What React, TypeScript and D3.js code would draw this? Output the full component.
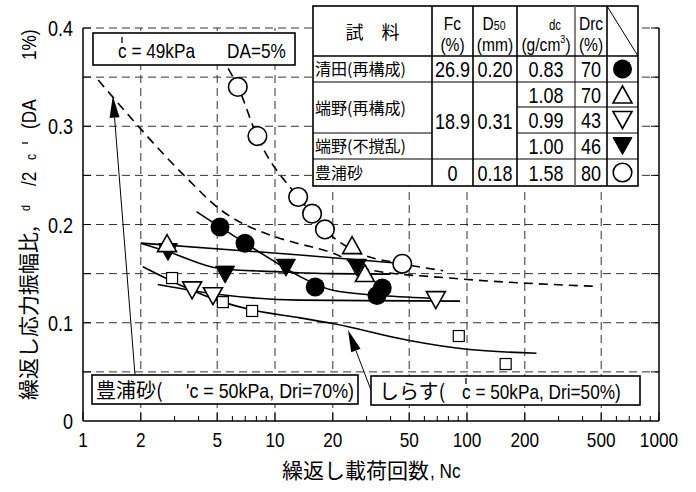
import * as d3 from "d3";
import React from "react";

const W = 696;
const H = 492;
const SANS = "'Liberation Sans', Arial, sans-serif";
const CJK = "'Noto Sans CJK JP', 'Noto Sans CJK SC', sans-serif";
const SQ = 0.82; // horizontal squeeze to imitate a narrow face

// axis ticks
const X_TICKS = [1, 2, 5, 10, 20, 50, 100, 200, 500, 1000];
const X_GRID = [2, 5, 10, 20, 50, 100, 200, 500];
const X_MINOR = [3, 4, 6, 7, 8, 9, 30, 40, 60, 70, 80, 90, 300, 400, 600, 700, 800, 900];
const Y_LABELS = [0, 0.1, 0.2, 0.3, 0.4];
const Y_GRID = [0.05, 0.1, 0.15, 0.2, 0.25, 0.3, 0.35, 0.4];

// 豊浦砂 (open circle)
const TOYOURA_N = [6.4, 8.1, 13.2, 15.6, 18.2, 46];
const TOYOURA_V = [0.34, 0.29, 0.228, 0.211, 0.195, 0.16];
// 清田(再構成) (filled circle)
const KIYOTA_N = [5.17, 6.98, 16.2, 36.2, 34];
const KIYOTA_V = [0.1975, 0.181, 0.1364, 0.1354, 0.1277];
// 端野(再構成) Drc=70 (open up triangle)
const TANNO70_N = [2.74, 25.2, 29.4];
const TANNO70_V = [0.181, 0.179, 0.1506];
// 端野(再構成) Drc=43 (open down triangle)
const TANNO43_N = [3.7, 4.75, 68.8];
const TANNO43_V = [0.133, 0.127, 0.123];
// 端野(不撹乱) (filled down triangle)
const TANNO_UND_N = [2.77, 5.5, 11.4, 26.7];
const TANNO_UND_V = [0.172, 0.149, 0.156, 0.156];
// しらす Dri=50% (small square)
const SHIRASU_N = [2.91, 5.35, 7.6, 90.6, 159];
const SHIRASU_V = [0.1455, 0.121, 0.112, 0.0865, 0.058];

// fitted curves (solid)
const FIT_KIYOTA_N = [3.9, 5.2, 7.0, 10.2, 13.5, 20, 34, 64];
const FIT_KIYOTA_V = [0.213, 0.197, 0.181, 0.161, 0.147, 0.133, 0.128, 0.125];
const FIT_T70_N = [2.0, 13.5, 41];
const FIT_T70_V = [0.181, 0.169, 0.161];
const FIT_TUND_N = [2.0, 2.8, 5.2, 10.2, 19.4, 40];
const FIT_TUND_V = [0.181, 0.172, 0.155, 0.152, 0.15, 0.1495];
const FIT_T43_N = [2.45, 5, 13.5, 30, 92];
const FIT_T43_V = [0.139, 0.129, 0.123, 0.1225, 0.122];
const FIT_SHIRASU_N = [2.05, 5.35, 7.6, 13.5, 20.3, 50, 100, 230];
const FIT_SHIRASU_V = [0.157, 0.121, 0.113, 0.105, 0.099, 0.082, 0.073, 0.069];
// dashed curves
const DASH_TOYOURA_N = [5.7, 6.42, 8.06, 13.2, 15.6, 18.2, 26.7, 46.4, 75];
const DASH_TOYOURA_V = [0.359, 0.34, 0.29, 0.228, 0.211, 0.195, 0.172, 0.16, 0.153];
const DASH_REF_N = [1.2, 3.48, 5.05, 10.2, 13, 20, 31, 81.5, 475];
const DASH_REF_V = [0.347, 0.247, 0.217, 0.187, 0.181, 0.171, 0.154, 0.1455, 0.137];

// table
const TABLE_NAMES = ["清田(再構成)", "端野(再構成)", "端野(不撹乱)", "豊浦砂"];
const TABLE_FC = ["26.9", "18.9", "0"];
const TABLE_D50 = ["0.20", "0.31", "0.18"];
const TABLE_DC = ["0.83", "1.08", "0.99", "1.00", "1.58"];
const TABLE_DRC = ["70", "70", "43", "46", "80"];
const TABLE_SYM = ["fcircle", "utri", "dtri", "fdtri", "ocircle"];

const x = d3.scaleLog().domain([1, 1000]).range([83, 659]);
const y = d3.scaleLinear().domain([0, 0.4]).range([421, 28]);

const zip = (ns: number[], vs: number[]) => ns.map((n, i) => [n, vs[i]] as [number, number]);
const line = d3
  .line<[number, number]>()
  .x((d) => x(d[0]))
  .y((d) => y(d[1]))
  .curve(d3.curveMonotoneX);

// narrow text: squeezed horizontally around its anchor
function NT({
  x: tx,
  y: ty,
  size = 21,
  anchor = "start",
  children,
}: {
  x: number;
  y: number;
  size?: number;
  anchor?: string;
  children: React.ReactNode;
}) {
  return (
    <text
      transform={`translate(${tx},${ty}) scale(${SQ},1)`}
      textAnchor={anchor}
      fontFamily={SANS}
      fontSize={size}
    >
      {children}
    </text>
  );
}

// small prime stroke drawn above a "c"
const Prime = ({ px, py }: { px: number; py: number }) => (
  <line x1={px} y1={py} x2={px} y2={py + 6} stroke="#000" strokeWidth={1.3} />
);

function Marker({ kind, cx, cy }: { kind: string; cx: number; cy: number }) {
  const w = 19;
  const h = 17;
  if (kind === "fcircle") return <circle cx={cx} cy={cy} r={9.5} fill="#000" />;
  if (kind === "ocircle")
    return <circle cx={cx} cy={cy} r={9.3} fill="#fff" stroke="#000" strokeWidth={1.6} />;
  if (kind === "square")
    return <rect x={cx - 5.5} y={cy - 5.5} width={11} height={11} fill="#fff" stroke="#000" strokeWidth={1.2} />;
  const up = `M${cx - w / 2},${cy + h / 2}L${cx + w / 2},${cy + h / 2}L${cx},${cy - h / 2}Z`;
  const down = `M${cx - w / 2},${cy - h / 2}L${cx + w / 2},${cy - h / 2}L${cx},${cy + h / 2}Z`;
  if (kind === "utri") return <path d={up} fill="#fff" stroke="#000" strokeWidth={1.6} />;
  if (kind === "dtri") return <path d={down} fill="#fff" stroke="#000" strokeWidth={1.6} />;
  return <path d={down} fill="#000" stroke="#000" strokeWidth={1} />;
}

function Arrow({ x1, y1, x2, y2 }: { x1: number; y1: number; x2: number; y2: number }) {
  const ang = Math.atan2(y2 - y1, x2 - x1);
  const len = 22;
  const hw = 5;
  const bx = x2 - len * Math.cos(ang);
  const by = y2 - len * Math.sin(ang);
  const px = -Math.sin(ang) * hw;
  const py = Math.cos(ang) * hw;
  return (
    <g>
      <line x1={x1} y1={y1} x2={bx} y2={by} stroke="#000" strokeWidth={1} />
      <path d={`M${x2},${y2}L${bx + px},${by + py}L${bx - px},${by - py}Z`} fill="#000" />
    </g>
  );
}

export default function App() {
  const [x0, x1] = x.range();
  const [y0, y1] = y.range();
  const series = [
    { kind: "ocircle", d: zip(TOYOURA_N, TOYOURA_V) },
    { kind: "fcircle", d: zip(KIYOTA_N, KIYOTA_V) },
    { kind: "fdtri", d: zip(TANNO_UND_N, TANNO_UND_V) },
    { kind: "utri", d: zip(TANNO70_N, TANNO70_V) },
    { kind: "dtri", d: zip(TANNO43_N, TANNO43_V) },
    { kind: "square", d: zip(SHIRASU_N, SHIRASU_V) },
  ];
  const solid = [
    zip(FIT_KIYOTA_N, FIT_KIYOTA_V),
    zip(FIT_T70_N, FIT_T70_V),
    zip(FIT_TUND_N, FIT_TUND_V),
    zip(FIT_T43_N, FIT_T43_V),
    zip(FIT_SHIRASU_N, FIT_SHIRASU_V),
  ];
  const dashed = [zip(DASH_TOYOURA_N, DASH_TOYOURA_V), zip(DASH_REF_N, DASH_REF_V)];

  // table geometry
  const cols = [313, 432, 473, 517, 575, 607, 638];
  const rows = [6, 56, 82, 107, 133, 159, 186];
  const cc = (i: number) => (cols[i] + cols[i + 1]) / 2;
  const rc = (i: number) => (rows[i] + rows[i + 1]) / 2;
  const merged = (rows[2] + rows[5]) / 2;

  return (
    <svg width={W} height={H} style={{ position: "absolute", left: 0, top: 0, background: "#fff" }}>
      {/* grid */}
      {X_GRID.map((t) => (
        <line key={"gx" + t} x1={x(t)} x2={x(t)} y1={y0} y2={y1} stroke="#333" strokeWidth={1} strokeDasharray="8,5" />
      ))}
      {Y_GRID.map((t) => (
        <line key={"gy" + t} x1={x0} x2={x1} y1={y(t)} y2={y(t)} stroke="#333" strokeWidth={1} strokeDasharray="8,5" />
      ))}

      {/* curves */}
      {dashed.map((d, i) => (
        <path key={"dl" + i} d={line(d) || ""} fill="none" stroke="#000" strokeWidth={1.6} strokeDasharray="9,6" />
      ))}
      {solid.map((d, i) => (
        <path key={"sl" + i} d={line(d) || ""} fill="none" stroke="#000" strokeWidth={1.6} />
      ))}

      {/* markers */}
      {series.map((s) =>
        s.d.map((p, i) => <Marker key={s.kind + i} kind={s.kind} cx={x(p[0])} cy={y(p[1])} />)
      )}

      {/* axes frame */}
      <line x1={x0} x2={x0} y1={y1} y2={y0} stroke="#000" strokeWidth={1.5} />
      <line x1={x1} x2={x1} y1={y1} y2={y0} stroke="#000" strokeWidth={1.5} />
      <line x1={x0} x2={x1} y1={y0} y2={y0} stroke="#000" strokeWidth={1.5} />
      {Y_GRID.map((t) => (
        <g key={"yt" + t}>
          <line x1={x0} x2={x0 + 8} y1={y(t)} y2={y(t)} stroke="#000" />
          <line x1={x1 - 8} x2={x1} y1={y(t)} y2={y(t)} stroke="#000" />
        </g>
      ))}
      {X_TICKS.map((t) => (
        <line key={"xt" + t} x1={x(t)} x2={x(t)} y1={y0} y2={y0 - 9} stroke="#000" />
      ))}
      {X_MINOR.map((t) => (
        <line key={"xm" + t} x1={x(t)} x2={x(t)} y1={y0} y2={y0 - 5} stroke="#000" />
      ))}
      {Y_LABELS.map((t) => (
        <NT key={"yl" + t} x={73} y={y(t) + 8} anchor="end" size={22}>
          {t === 0 ? "0" : t.toFixed(1)}
        </NT>
      ))}
      {X_TICKS.map((t) => (
        <NT key={"xl" + t} x={x(t)} y={447} anchor="middle" size={21}>
          {String(t)}
        </NT>
      ))}

      {/* axis titles */}
      <text x={282} y={478} fontFamily={CJK} fontSize={21}>繰返し載荷回数</text>
      <NT x={430} y={478} size={21}>, Nc</NT>
      <text transform="translate(36,400) rotate(-90)" fontSize={21} fontFamily={CJK}>
        繰返し応力振幅比,
      </text>
      <text transform={`translate(36,400) rotate(-90) scale(${SQ},1)`} fontSize={21} fontFamily={SANS}>
        <tspan x={189 / SQ} dy={-6} fontSize={13}>d</tspan>
        <tspan x={214 / SQ} dy={6}>/2</tspan>
        <tspan x={240 / SQ} fontSize={15}>c</tspan>
        <tspan x={271 / SQ}>(DA</tspan>
        <tspan x={340 / SQ}>1%)</tspan>
      </text>
      <line x1={22} x2={28} y1={143} y2={143} stroke="#000" strokeWidth={1.3} />

      {/* top annotation */}
      <rect x={93} y={33} width={202} height={32} fill="#fff" stroke="#000" strokeWidth={1.6} />
      <NT x={118} y={58} size={21}>c = 49kPa</NT>
      <Prime px={122} py={37} />
      <NT x={227} y={58} size={21}>DA=5%</NT>

      {/* table */}
      <rect x={cols[0]} y={rows[0]} width={cols[6] - cols[0]} height={rows[6] - rows[0]} fill="#fff" stroke="#000" strokeWidth={1.6} />
      {cols.slice(1, 6).map((c, i) => (
        <line key={"tc" + i} x1={c} x2={c} y1={rows[0]} y2={rows[6]} stroke={i === 3 ? "#666" : "#000"} strokeWidth={1.6} />
      ))}
      <line x1={cols[0]} x2={cols[6]} y1={rows[1]} y2={rows[1]} stroke="#000" strokeWidth={1.6} />
      <line x1={cols[0]} x2={cols[6]} y1={rows[2]} y2={rows[2]} stroke="#000" strokeWidth={1.2} />
      <line x1={cols[3]} x2={cols[6]} y1={rows[3]} y2={rows[3]} stroke="#000" strokeWidth={1.2} />
      <line x1={cols[0]} x2={cols[1]} y1={rows[4]} y2={rows[4]} stroke="#000" strokeWidth={1.2} />
      <line x1={cols[3]} x2={cols[6]} y1={rows[4]} y2={rows[4]} stroke="#000" strokeWidth={1.2} />
      <line x1={cols[0]} x2={cols[6]} y1={rows[5]} y2={rows[5]} stroke="#000" strokeWidth={1.2} />
      <line x1={cols[5]} x2={cols[6]} y1={rows[0]} y2={rows[1]} stroke="#000" strokeWidth={1} />

      {/* table header */}
      <text x={cc(0)} y={39} textAnchor="middle" fontFamily={CJK} fontSize={18}>試　料</text>
      <NT x={cc(1)} y={30} anchor="middle" size={19}>Fc</NT>
      <NT x={cc(1)} y={51} anchor="middle" size={19}>(%)</NT>
      <NT x={cc(2) - 1} y={30} anchor="middle" size={19}>
        D<tspan fontSize={13}>50</tspan>
      </NT>
      <NT x={cc(2)} y={51} anchor="middle" size={19}>(mm)</NT>
      <NT x={cc(3) + 9} y={30} anchor="middle" size={14}>dc</NT>
      <NT x={cc(3)} y={51} anchor="middle" size={19}>
        (g/cm<tspan fontSize={11} dy={-8}>3</tspan>
        <tspan dy={8}>)</tspan>
      </NT>
      <NT x={cc(4)} y={30} anchor="middle" size={19}>Drc</NT>
      <NT x={cc(4)} y={51} anchor="middle" size={19}>(%)</NT>

      {/* table body */}
      <g fontFamily={CJK} fontSize={16}>
        <text x={cols[0] + 2} y={rc(1) + 6}>{TABLE_NAMES[0]}</text>
        <text x={cols[0] + 2} y={(rows[2] + rows[4]) / 2 + 6}>{TABLE_NAMES[1]}</text>
        <text x={cols[0] + 2} y={rc(4) + 6}>{TABLE_NAMES[2]}</text>
        <text x={cols[0] + 2} y={rc(5) + 6}>{TABLE_NAMES[3]}</text>
      </g>
      <NT x={cc(1)} y={rc(1) + 8} anchor="middle" size={22}>{TABLE_FC[0]}</NT>
      <NT x={cc(1)} y={merged + 8} anchor="middle" size={22}>{TABLE_FC[1]}</NT>
      <NT x={cc(1)} y={rc(5) + 8} anchor="middle" size={22}>{TABLE_FC[2]}</NT>
      <NT x={cc(2)} y={rc(1) + 8} anchor="middle" size={22}>{TABLE_D50[0]}</NT>
      <NT x={cc(2)} y={merged + 8} anchor="middle" size={22}>{TABLE_D50[1]}</NT>
      <NT x={cc(2)} y={rc(5) + 8} anchor="middle" size={22}>{TABLE_D50[2]}</NT>
      {TABLE_DC.map((t, i) => (
        <NT key={"dc" + i} x={cc(3)} y={rc(i + 1) + 8} anchor="middle" size={22}>{t}</NT>
      ))}
      {TABLE_DRC.map((t, i) => (
        <NT key={"dr" + i} x={cc(4)} y={rc(i + 1) + 8} anchor="middle" size={22}>{t}</NT>
      ))}
      {TABLE_SYM.map((k, i) => (
        <Marker key={"ts" + i} kind={k} cx={cc(5)} cy={rc(i + 1)} />
      ))}

      {/* lower annotations */}
      <rect x={92} y={375} width={266} height={29} fill="#fff" stroke="#000" strokeWidth={1.6} />
      <text x={96} y={398} fontFamily={CJK} fontSize={20}>豊浦砂(</text>
      <text x={186} y={398} fontFamily={SANS} fontSize={21} textLength={168} lengthAdjust="spacingAndGlyphs">
        'c = 50kPa, Dri=70%)
      </text>
      <rect x={371} y={376} width={269} height={29} fill="#fff" stroke="#000" strokeWidth={1.6} />
      <text x={379} y={399} fontFamily={CJK} fontSize={20}>しらす(</text>
      <NT x={462} y={399} size={21}>c = 50kPa, Dri=50%)</NT>
      <Prime px={466} py={378} />

      <Arrow x1={135} y1={375} x2={x(1.43)} y2={y(0.331)} />
      <Arrow x1={371} y1={390} x2={x(24)} y2={y(0.0926)} />
    </svg>
  );
}
